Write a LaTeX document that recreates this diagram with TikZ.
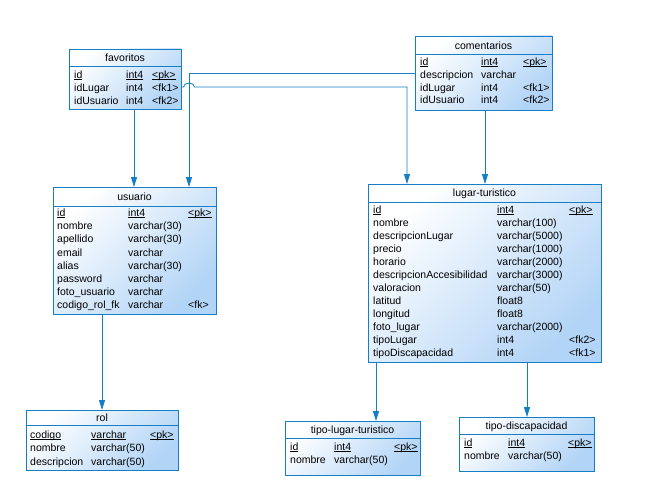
\documentclass[tikz,border=0pt]{standalone}
\usepackage{fontspec}
\setmainfont{Liberation Sans}
\usetikzlibrary{arrows.meta,calc}

\definecolor{erline}{RGB}{22,126,196}
\definecolor{erfill}{RGB}{178,212,246}

\tikzset{
  erbox/.style={draw=erline, line width=0.9pt, top color=white, bottom color=erfill,
    shading angle=45, inner sep=0pt, outer sep=0pt, anchor=north west},
  erhead/.style={draw=erline, line width=0.9pt},
  ertitle/.style={anchor=base, inner sep=0pt, font=\fontsize{10.5}{12}\selectfont},
  ercell/.style={anchor=base west, inner sep=0pt, font=\fontsize{10.5}{12}\selectfont},
  fk/.style={draw=erline, line width=0.9pt, -{Triangle[length=10pt,width=6pt]}},
}

% primary-key underline at a fixed depth
\newcommand\pkul[1]{\setbox0\hbox{#1}\rlap{\rule[-1.5pt]{\wd0}{0.7pt}}\box0}

% table frame: name, left, top, right, bottom, header line, title, title baseline
\newcommand\ertable[8]{%
  \node[erbox, minimum width={(#4-#2)*1pt}, minimum height={(#5-#3)*1pt}] (#1) at (#2,#3) {};
  \draw[erhead] (#2,#6) -- (#4,#6);
  \node[ertitle] (#1-title) at ({(#2+#4)/2},#8) {#7};
}
% row with three columns: id, baseline, x1, text1, x2, text2, x3, text3
\newcommand\errow[8]{%
  \node[ercell] (#1a) at (#3,#2) {#4};
  \node[ercell] (#1b) at (#5,#2) {#6};
  \node[ercell] (#1c) at (#7,#2) {#8};
}
% row with two columns
\newcommand\errowb[6]{%
  \node[ercell] (#1a) at (#3,#2) {#4};
  \node[ercell] (#1b) at (#5,#2) {#6};
}

\begin{document}
\begin{tikzpicture}[x=1pt, y=-1pt]
  \fill[white] (0,0) rectangle (650,503);
  \useasboundingbox (0,0) rectangle (650,503);

  % favoritos
  \ertable{fav}{69}{49}{181}{109}{66}{favoritos}{61.5}
  \errow{fav1}{78}{74}{\pkul{id}}{126}{\pkul{int4}}{152}{\pkul{<pk>}}
  \errow{fav2}{91}{74}{idLugar}{126}{int4}{152}{<fk1>}
  \errow{fav3}{104}{74}{idUsuario}{126}{int4}{152}{<fk2>}

  % comentarios
  \ertable{com}{415}{36}{552}{110}{54}{comentarios}{49}
  \errow{com1}{65.5}{420}{\pkul{id}}{481}{\pkul{int4}}{523}{\pkul{<pk>}}
  \errowb{com2}{78.3}{420}{descripcion}{481}{varchar}
  \errow{com3}{91}{420}{idLugar}{481}{int4}{523}{<fk1>}
  \errow{com4}{103.7}{420}{idUsuario}{481}{int4}{523}{<fk2>}

  % usuario
  \ertable{usr}{53}{187}{216}{314}{206}{usuario}{200.5}
  \errow{usr1}{216.5}{57}{\pkul{id}}{128}{\pkul{int4}}{188}{\pkul{<pk>}}
  \errowb{usr2}{229.6}{57}{nombre}{128}{varchar(30)}
  \errowb{usr3}{242.8}{57}{apellido}{128}{varchar(30)}
  \errowb{usr4}{256}{57}{email}{128}{varchar}
  \errowb{usr5}{269.1}{57}{alias}{128}{varchar(30)}
  \errowb{usr6}{282.2}{57}{password}{128}{varchar}
  \errowb{usr7}{295.4}{57}{foto\_usuario}{128}{varchar}
  \errow{usr8}{308.5}{57}{codigo\_rol\_fk}{128}{varchar}{188}{<fk>}

  % lugar-turistico
  \ertable{lug}{368}{184}{601}{362}{202}{lugar-turistico}{196}
  \errow{lug1}{213.3}{373}{\pkul{id}}{497}{\pkul{int4}}{569}{\pkul{<pk>}}
  \errowb{lug2}{226.3}{373}{nombre}{497}{varchar(100)}
  \errowb{lug3}{239.3}{373}{descripcionLugar}{497}{varchar(5000)}
  \errowb{lug4}{252.3}{373}{precio}{497}{varchar(1000)}
  \errowb{lug5}{265.3}{373}{horario}{497}{varchar(2000)}
  \errowb{lug6}{278.3}{373}{descripcionAccesibilidad}{497}{varchar(3000)}
  \errowb{lug7}{291.3}{373}{valoracion}{497}{varchar(50)}
  \errowb{lug8}{304.3}{373}{latitud}{497}{float8}
  \errowb{lug9}{317.3}{373}{longitud}{497}{float8}
  \errowb{lug10}{330.3}{373}{foto\_lugar}{497}{varchar(2000)}
  \errow{lug11}{343.3}{373}{tipoLugar}{497}{int4}{569}{<fk2>}
  \errow{lug12}{356.3}{373}{tipoDiscapacidad}{497}{int4}{569}{<fk1>}

  % rol
  \ertable{rol}{26}{410}{178}{470}{425}{rol}{421.5}
  \errow{rol1}{438.3}{30}{\pkul{codigo}}{91}{\pkul{varchar}}{150}{\pkul{<pk>}}
  \errowb{rol2}{451.7}{30}{nombre}{91}{varchar(50)}
  \errowb{rol3}{465}{30}{descripcion}{91}{varchar(50)}

  % tipo-lugar-turistico
  \ertable{tlt}{285}{421}{420}{475}{438}{tipo-lugar-turistico}{433.3}
  \errow{tlt1}{450}{290}{\pkul{id}}{334}{\pkul{int4}}{394}{\pkul{<pk>}}
  \errowb{tlt2}{463.3}{290}{nombre}{334}{varchar(50)}

  % tipo-discapacidad
  \ertable{tdi}{459}{417}{594}{471}{434}{tipo-discapacidad}{429}
  \errow{tdi1}{446}{464}{\pkul{id}}{508}{\pkul{int4}}{568}{\pkul{<pk>}}
  \errowb{tdi2}{459}{464}{nombre}{508}{varchar(50)}

  % references
  \draw[fk] (fav.south -| 134,0) -- (usr.north -| 134,0);
  \draw[fk] (com.west |- 0,73) -- (189,73) -- (usr.north -| 189,0);
  \draw[fk] (fav.east |- 0,87) -- (183.5,87)
    arc[start angle=180, end angle=0, x radius=5.5pt, y radius=4pt]
    -- (407,87) -- (lug.north -| 407,0);
  \draw[fk] (com.south -| 485,0) -- (lug.north -| 485,0);
  \draw[fk] (usr.south -| 102,0) -- (rol.north -| 102,0);
  \draw[fk] (lug.south -| 376,0) -- (tlt.north -| 376,0);
  \draw[fk] (lug.south -| 527,0) -- (tdi.north -| 527,0);
\end{tikzpicture}
\end{document}
